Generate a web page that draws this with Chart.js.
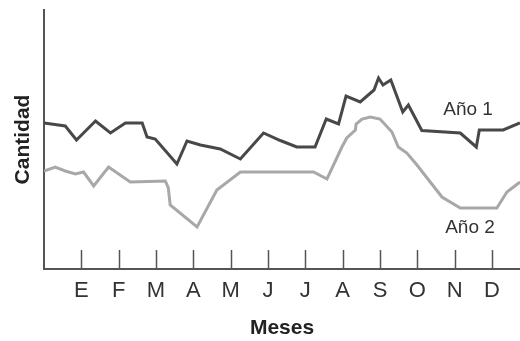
<!DOCTYPE html>
<html>
<head>
<meta charset="utf-8">
<script src="https://cdn.jsdelivr.net/npm/chart.js@4"></script>
<style>
  html, body { margin: 0; padding: 0; background: #fff; }
  #wrap { width: 520px; height: 341px; }
</style>
</head>
<body>
<div id="wrap"><canvas id="lineChart"></canvas></div>
<script>
// month letters, tick at month 1..12
const monthLabels = ['E', 'F', 'M', 'A', 'M', 'J', 'J', 'A', 'S', 'O', 'N', 'D'];

// Año 1 (dark line): x = month position, y = cantidad
const year1X = [0, 0.57, 0.87, 1.38, 1.78, 2.18, 2.63, 2.76, 2.98, 3.56, 3.83, 4.19, 4.72, 5.26, 5.88, 6.33,
    6.77, 7.26, 7.56, 7.89, 8.09, 8.47, 8.84, 8.96, 9.08, 9.29, 9.61, 9.76, 10.12, 11.15, 11.58, 11.66, 12.3, 12.75];
const year1Y = [146, 143, 129, 148, 136, 146, 146, 132, 130, 105, 128, 124, 120, 110, 136, 128.5,
    122, 122, 150, 145, 173, 167, 179, 191, 184, 189, 157, 164, 138.5, 136, 122, 139, 139, 146];

// Año 2 (light line)
const year2X = [0, 0.3, 0.57, 0.84, 1.06, 1.33, 1.73, 2.31, 3.25, 3.33, 3.38, 4.1, 4.63, 5.26, 7.22, 7.58,
    7.98, 8.11, 8.34, 8.36, 8.52, 8.74, 9.0, 9.32, 9.49, 9.72, 9.99, 10.66, 11.15, 12.13, 12.4, 12.75];
const year2Y = [98, 102, 98, 95, 97, 83, 102, 87, 88, 81, 64, 42, 79, 97, 97, 90,
    122, 131, 139, 145, 150, 152, 150, 137, 122, 116, 104, 72, 61, 61, 77, 87];

const seriesNames = ['Año 1', 'Año 2'];

const fontFamily = '"Liberation Sans", Arial, sans-serif';

function toPoints(xs, ys) {
    return xs.map((x, i) => ({ x: x, y: ys[i] }));
}

// tick marks pointing up into the plot, plus the series names
const decorations = {
    id: 'decorations',
    afterDatasetsDraw(chart) {
        const { ctx, scales: { x, y }, chartArea } = chart;
        ctx.save();
        ctx.strokeStyle = '#555';
        ctx.lineWidth = 1.5;
        for (let m = 1; m <= monthLabels.length; m++) {
            const px = Math.round(x.getPixelForValue(m)) + 0.5;
            ctx.beginPath();
            ctx.moveTo(px, chartArea.bottom);
            ctx.lineTo(px, chartArea.bottom - 19);
            ctx.stroke();
        }
        ctx.fillStyle = '#333';
        ctx.font = '19px ' + fontFamily;
        ctx.textAlign = 'center';
        ctx.textBaseline = 'middle';
        ctx.fillText(seriesNames[0], x.getPixelForValue(11.36), y.getPixelForValue(159));
        ctx.fillText(seriesNames[1], x.getPixelForValue(11.41), y.getPixelForValue(41));
        ctx.restore();
    }
};

const ctx = document.getElementById('lineChart').getContext('2d');
new Chart(ctx, {
    type: 'line',
    data: {
        datasets: [
            {
                label: seriesNames[0],
                data: toPoints(year1X, year1Y),
                borderColor: '#484848',
                borderWidth: 3,
                pointRadius: 0,
                tension: 0
            },
            {
                label: seriesNames[1],
                data: toPoints(year2X, year2Y),
                borderColor: '#a8a8a8',
                borderWidth: 3,
                pointRadius: 0,
                tension: 0
            }
        ]
    },
    options: {
        responsive: true,
        maintainAspectRatio: false,
        animation: false,
        layout: { padding: { top: 10, right: 0, left: 0, bottom: 0 } },
        plugins: { legend: { display: false }, tooltip: { enabled: false } },
        scales: {
            x: {
                type: 'linear',
                min: 0,
                max: 12.75,
                afterBuildTicks(scale) {
                    scale.ticks = monthLabels.map((_, i) => ({ value: i + 1 }));
                },
                ticks: {
                    autoSkip: false,
                    maxRotation: 0,
                    padding: 8.8,
                    color: '#333',
                    font: { family: fontFamily, size: 22 },
                    callback: (value) => monthLabels[value - 1]
                },
                grid: { display: false, drawTicks: false },
                border: { display: true, color: '#555', width: 2 },
                title: {
                    display: true,
                    text: 'Meses',
                    color: '#222',
                    font: { family: fontFamily, size: 21, weight: 'bold' },
                    padding: { top: 2.4, bottom: 0.4 }
                }
            },
            y: {
                min: 0,
                max: 259,
                ticks: { display: false },
                grid: { display: false, drawTicks: false },
                border: { display: true, color: '#555', width: 2 },
                title: {
                    display: true,
                    text: 'Cantidad',
                    color: '#222',
                    font: { family: fontFamily, size: 21, weight: 'bold' },
                    padding: { top: 10.9, bottom: 7.9 }
                }
            }
        }
    },
    plugins: [decorations]
});
</script>
</body>
</html>
